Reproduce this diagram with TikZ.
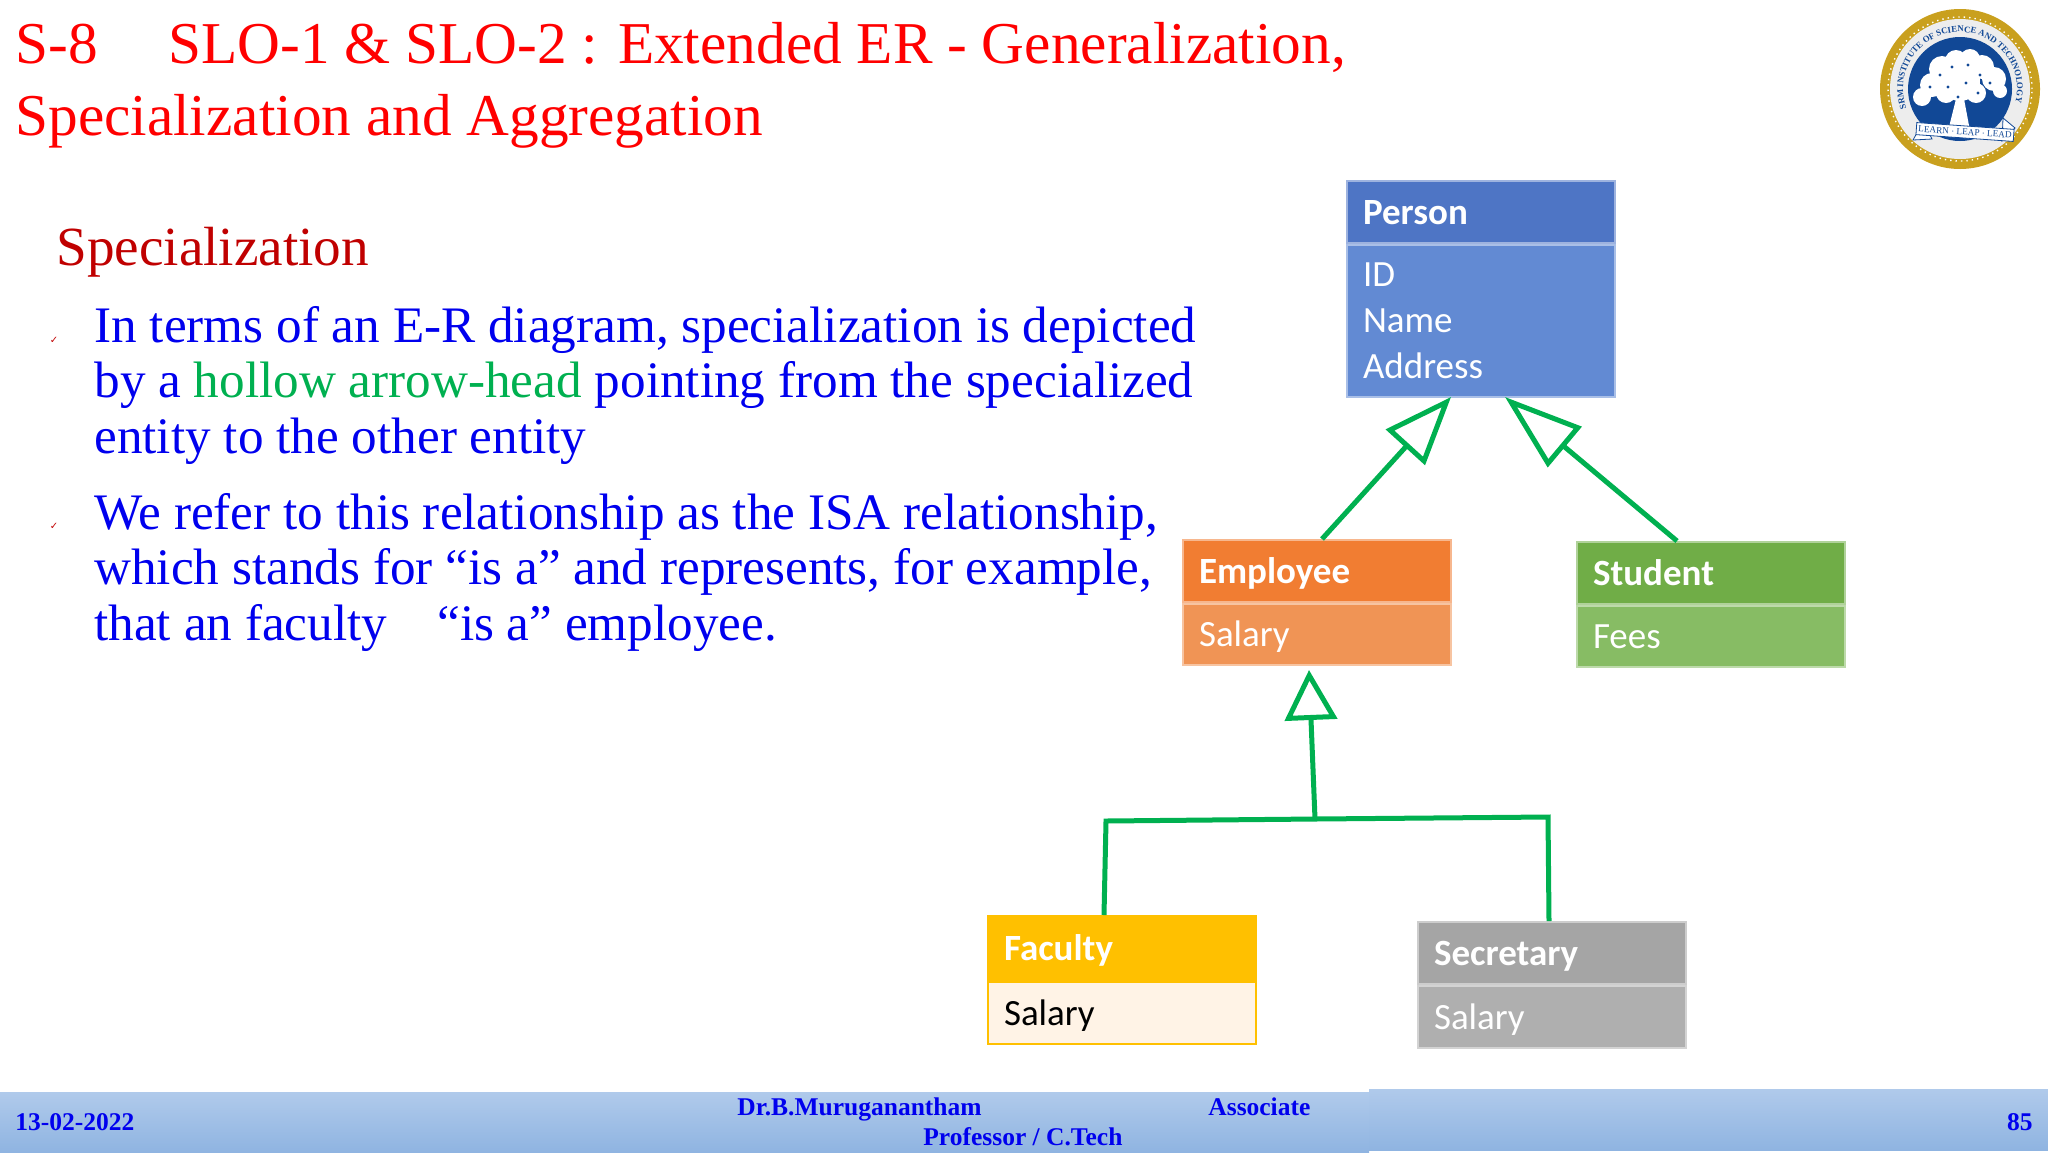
\documentclass[tikz,border=0pt]{standalone}
\usepackage{fontspec}
\usepackage{xcolor}
\usepackage{tikz}
\usetikzlibrary{arrows.meta,positioning,decorations.text}
\setmainfont{Liberation Serif}
\newfontfamily\boxfont{Carlito}
\newfontfamily\tickfont{DejaVu Sans}
\definecolor{titlered}{RGB}{255,0,0}
\definecolor{headred}{RGB}{192,0,0}
\definecolor{bodyblue}{RGB}{0,0,238}
\definecolor{isagreen}{RGB}{0,176,80}
\definecolor{personhead}{RGB}{78,117,197}
\definecolor{personbody}{RGB}{98,138,211}
\definecolor{employeehead}{RGB}{241,125,50}
\definecolor{employeebody}{RGB}{240,148,85}
\definecolor{studenthead}{RGB}{112,173,71}
\definecolor{studentbody}{RGB}{135,188,100}
\definecolor{secretaryhead}{RGB}{165,165,165}
\definecolor{secretarybody}{RGB}{175,175,175}
\definecolor{facultyhead}{RGB}{255,192,0}
\definecolor{facultybody}{RGB}{255,243,230}
\definecolor{barlight}{RGB}{176,202,235}
\definecolor{bardark}{RGB}{143,180,225}
\definecolor{sealgold}{RGB}{201,160,30}
\definecolor{sealblue}{RGB}{17,72,150}

\begin{document}
\begin{tikzpicture}[
    x=0.5pt,y=-0.5pt,
    boxhead/.style={rectangle,draw=#1!55!white,line width=1pt,fill=#1,inner xsep=8pt,inner ysep=0pt,minimum height=31pt,text width=118pt,text height=13pt,text depth=1pt,align=left,font=\boxfont\fontsize{18.5}{18}\selectfont\bfseries,text=white},
    boxbody/.style={rectangle,draw=#1!55!white,line width=1pt,fill=#1,inner xsep=8pt,inner ysep=0pt,text width=118pt,align=left,font=\boxfont\fontsize{18.5}{18}\selectfont,text=white},
    oneline/.style={text height=13pt,text depth=1pt},
    isa/.style={-{Triangle[open,length=#1,width=26pt]},line width=2.5pt,isagreen},
    bus/.style={line width=2.5pt,isagreen},
    slidetext/.style={anchor=north west,inner sep=0pt,align=left,font=\fontsize{25.6}{27.75}\selectfont,text=bodyblue},
    tick/.style={inner sep=0pt,font=\tickfont\fontsize{5}{5}\selectfont,text=headred},
    bartext/.style={inner sep=0pt,font=\fontsize{12.75}{13}\selectfont\bfseries,text=bodyblue}
]

\useasboundingbox (0,0) rectangle (2048,1152);

\node[anchor=north west,inner sep=0pt,align=left,font=\fontsize{29.65}{36}\selectfont,text=titlered] (title) at (15,22) {S-8\hspace{35.3pt}SLO-1 \& SLO-2 : Extended ER - Generalization,\\Specialization and Aggregation};
\node[anchor=north west,inner sep=0pt,font=\fontsize{27.6}{30}\selectfont,text=headred] (topic) at (56,227) {Specialization};

\node[slidetext] (para1) at (94,306) {In terms of an E-R diagram, specialization is depicted\\by a \textcolor{isagreen}{hollow arrow-head} pointing from the specialized\\entity to the other entity};
\node[slidetext] (para2) at (94,493) {We refer to this relationship as the ISA relationship,\\which stands for “is a” and represents, for example,\\that an faculty\hspace{25pt}“is a” employee.};
\node[tick] (tick1) at (54,340) {✓};
\node[tick] (tick2) at (54,526) {✓};

\node[boxhead=personhead,anchor=north west] (person) at (1346,180) {Person};
\node[boxbody=personbody,below=0pt of person,minimum height=76pt] (personattr) {ID\\[5pt]Name\\[5pt]Address};
\node[boxhead=employeehead,anchor=north west] (employee) at (1182,539) {Employee};
\node[boxbody=employeebody,oneline,below=0pt of employee,minimum height=30.5pt] (employeeattr) {Salary};
\node[boxhead=studenthead,anchor=north west] (student) at (1576,541) {Student};
\node[boxbody=studentbody,oneline,below=0pt of student,minimum height=30.5pt] (studentattr) {Fees};
\node[boxhead=facultyhead,anchor=north west,draw=facultyhead,minimum height=32pt] (faculty) at (987,915) {Faculty};
\node[boxbody=facultybody,oneline,below=0pt of faculty,draw=facultyhead,text=black,minimum height=31pt] (facultyattr) {Salary};
\node[boxhead=secretaryhead,anchor=north west] (secretary) at (1417,921) {Secretary};
\node[boxbody=secretarybody,oneline,below=0pt of secretary,minimum height=31pt] (secretaryattr) {Salary};

\coordinate (busleft) at (1106,821);
\coordinate (busmid) at (1315,819);
\coordinate (busright) at (1548,817);

\draw[isa=34pt] ([xshift=2.5pt]employee.north) -- ([xshift=-15pt,yshift=0.5pt]personattr.south);
\draw[isa=39pt] ([xshift=-17pt]student.north) -- ([xshift=12pt,yshift=0.5pt]personattr.south);
\draw[isa=25pt] (busmid) -- ([xshift=-4pt,yshift=-2pt]employeeattr.south);
\draw[bus] ([xshift=-9pt]faculty.north) -- (busleft) -- (busmid) -- (busright) -- ([xshift=-1.5pt]secretary.north);

\shade[top color=barlight,bottom color=bardark] (0,1092) rectangle (1369,1152);
\shade[top color=barlight,bottom color=bardark] (1369,1089) rectangle (2048,1150);
\node[bartext,anchor=base west] (bardate) at (15,1130) {13-02-2022};
\node[bartext,anchor=base west] (barname) at (737,1115) {Dr.B.Muruganantham};
\node[bartext,anchor=base west] (barrole) at (1208,1115) {Associate};
\node[bartext,anchor=base west] (bardept) at (923,1145) {Professor / C.Tech};
\node[bartext,anchor=base east] (barpage) at (2033,1130) {85};

\begin{scope}[shift={(1960,89)},x=0.5pt,y=0.5pt]
\fill[sealgold] (0,0) circle (80);
\draw[white,line width=0.7pt,dotted] (0,0) circle (72);
\fill[black!7] (0,0) circle (70);
\fill[sealblue] (0,0) circle (52);
\foreach \blobx/\bloby/\blobr in {-38/-8/9,-28/4/12,-18/20/13,-4/28/11,10/30/10,22/22/12,34/10/12,40/-2/7,0/8/20,-14/-4/10,16/-4/10}
  \fill[white] (\blobx,\bloby) circle (\blobr);
\foreach \dotx/\doty in {-30/2,-20/14,-8/22,8/24,20/14,30/6,-12/2,6/6,18/-4,-2/-8}
  \fill[sealblue] (\dotx,\doty) circle (1.6);
\fill[white] (-4,-10) -- (4,-10) -- (10,-42) -- (-12,-42) -- cycle;
\path[decorate,decoration={text along path,text align=center,text={|\fontsize{4.4}{5}\selectfont\bfseries\color{sealblue}|SRM INSTITUTE OF SCIENCE AND TECHNOLOGY}}] (212:57) arc (212:-26:57);
\fill[white,draw=sealblue,line width=0.4pt] (-37,-33) -- (-47,-51) -- (-28,-50) -- cycle;
\fill[white,draw=sealblue,line width=0.4pt] (43,-29) -- (55,-39) -- (42,-52) -- cycle;
\node[rotate=-4,fill=white,draw=sealblue,line width=0.4pt,inner xsep=1pt,inner ysep=1.5pt,font=\fontsize{4.6}{5}\selectfont,text=sealblue] (sealmotto) at (5,-43) {LEARN · LEAP · LEAD};
\end{scope}

\end{tikzpicture}
\end{document}
